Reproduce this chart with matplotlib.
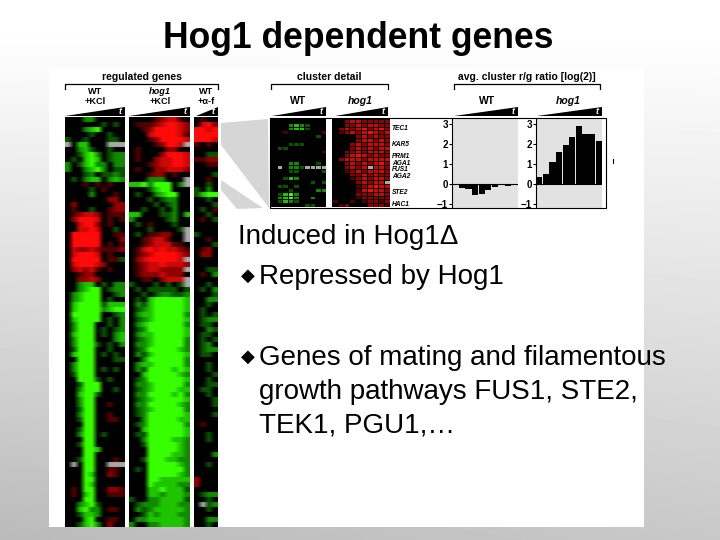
import numpy as np
import matplotlib
matplotlib.use("Agg")
import matplotlib.pyplot as plt
from matplotlib.colors import ListedColormap, BoundaryNorm

plt.rcParams['font.family'] = ['Liberation Sans', 'DejaVu Sans']

TITLE = "Hog1 dependent genes"

# heatmap rows, one letter per cell: a-d = red levels, 1-4 = green levels, w = no data
WT_KCL = [
    "...22.....", "......1.1.", "...234....", "....1..1..", "1..1...11.", "w.33...www",
    "..231..1..", "..1342.122", ".1.343.122", "2.13422.22", "2..2342.11", "...12.1121",
    ".1.233.232", "...a.a.a..", "....1.a...", "....2...a.", ".......bb.", ".b......bb",
    ".a..1..abb", ".abccb.aaa", ".bdddc.a.a", "..cddb.a..", "..ccdc..1.", ".ddddd..aa",
    ".ddddd...b", ".ddddd.a.a", ".cbbcbaaab", ".cdddc.a..", ".ddddd.aa1", ".cdddcb...",
    ".bcbca.a..", "..abb.....", "..bbcb....",
    "..233.1.22", "..2344.122", ".23444..12", ".23444.1..", ".344441333", ".344442344",
    ".44444..12", ".34444.1.2", ".2444..1.2", ".2444.1.12", ".3444.1.23", ".2444...23",
    ".24441.1.2", ".1444..1..", ".3444.1.1.", "..444...11", ".2444.....", ".2444.1.1.",
    ".1444.....", "..4441.1..", "..1444....", "..2444..1.", "..3441....", "..244.....",
    "..244..a..", "..144.....", "..244..a..", "..144..aa.", "...44.....", "..144.....",
    "..244.1...", "...44.....", "..144.....", "...443....", "...44.....", "..144...a.",
    ".w.44..www", "...44..aa.", "...43..ba.", "...44.....", "...43.....", ".a.44..bba",
    ".a.34..aaa", "...44.....", "..2341....", "..3422.aa.", "..1332....", "...34..aa.",
    "..1342.b..",
]
HOG1_KCL = [
    "....abcca.", ".aaabcddcb", "..abddddcb", "...cddddca", "...abddddc", "....abddcw",
    ".a....bb..", ".a...bdddc", ".a..bccddc", "...abccddc", ".a..bbcccb", "...abb.a..",
    "...222...w", "3342444.2w", "...1344...", ".1..2344..", "...1.122..", "....1.12..",
    "..1..1.2..", "33...112.3", "2.....12..", ".1.a...1..", "...1....1w", ".1.aabb..w",
    "..abcca..w", "..abcccaa.", ".acdcdccba", ".abcddddcb", ".bcdddddcw", ".abccdcccb",
    ".abccbbbbw", ".abbbcbbb.", "..aa.bcccw", "1...1.1.1w", ".1.11111.1", "..1.122112",
    ".1.3444443", ".213444443", ".123444443", ".233444442", ".123444443", ".234444442",
    ".124444443", ".233444443", ".123444442", ".223444442", ".124444432", ".213444443",
    "..24444442", ".233444442", ".214444343", "..34444432", ".124444443", ".223444442",
    ".123444433", ".224444342", ".123444443", ".224444432", ".123444442", ".124444443",
    "..24444433", ".124444442", "..34444443", ".114444443", "..24444332", "..14444432",
    "...4444432", "...4444332", "..14443322", "...4444432", ".1.4444442", "...4444432",
    "...4433333", "...4333322", "...3343331", "...3323332", "1..2233331", ".122233322",
    ".212333332", "..13233322", ".223333332", "2..2233332",
]
WT_AF = [
    ".a..", ".cdb", "ddcd", "dddd", "dddc", "a.a.", "....", "..11", "aabb", "..aa", "....",
    "...1", "..a.", "..1.", "1.2.", "1344", "..1.", "...1", ".1.a", "..1.", ".a.1", "....",
    "....", "1...", "..a.", "...1", ".ab.", ".bb.", "....", "....", "..11", ".a.2", "....",
    "..1.", ".1.2", "...1", "..22", "..1.", ".1..", ".1.1", ".122", ".11.", "..21", ".11.",
    ".1.1", ".12.", ".122", ".11.", "....", "..1.", "..1.", "...1", "..1.", "..11", ".11.",
    "..1.", "...1", "...1", "....", "...1", "....", ".a..", "....", "..1.", "..1.", "....",
    "....", "...2", "....", "..1.", "....", "....", "b...", "b...", "....", ".122", "..1.",
    ".w12", "..1.", "....", "..22", "..1.",
]
CLUSTER_WT = [
    "..........", "...2321...", "...2331...", "..a......a", "........1.", "..........",
    "...111....", ".11.......", ".........a", "..........", "..........", "...22...1.",
    ".w.221wwww", "...11....1", "..........", "..132.....", ".......1.1", ".11.1.....",
    "...1....22", ".1342.....", ".2342..2..", ".1321.....", "......11..",
]
CLUSTER_HOG1 = [
    "..bccbbbbb", "..bbcbccbb", ".bcbcdbcdb", ".abcbcdcbc", "....bcbcbb", "....bccbcb",
    "...bcbcccb", "...bcbcbcc", "..bbcbcccb", "..bcdcbcbb", ".bcccbcccc", "..bcbcbcdb",
    "..bcbcwccb", "..abcbcccb", "...bbcbcbb", "...abcbccb", "....bcbccw", "....abcdcc",
    "....acdccb", "....bbbccb", "....abbbbb", "a..a.abbab", ".ab...bbba",
]
GENE_LABELS = ["TEC1", "KAR5", "PRM1", "AGA1", "FUS1", "AGA2", "STE2", "HAC1"]
GENE_Y = [128, 145, 157, 163.5, 169.5, 177, 193, 205]

# average cluster r/g ratio, log2
BAR_WT = [0.0, -0.2, -0.25, -0.55, -0.5, -0.3, -0.15, 0.0, -0.1, -0.05]
BAR_HOG1 = [0.35, 0.5, 1.1, 1.6, 1.95, 2.35, 2.9, 2.5, 2.5, 2.15]
BAR_TICKS = [-1, 0, 1, 2, 3]

BULLETS = [
    (259, 276, "Repressed by Hog1"),
    (259, 357, "Genes of mating and filamentous"),
]

LEVELS = {'.': 0, 'a': 1, 'b': 2, 'c': 3, 'd': 4, '1': -1, '2': -2, '3': -3, '4': -4, 'w': 5}
COLORS = ['#38ff00', '#1fc400', '#128a00', '#0a5200', '#000000',
          '#4f0000', '#900000', '#cc0808', '#ff0a0a', '#a8a8a8']
CMAP = ListedColormap(COLORS)
NORM = BoundaryNorm(np.arange(-4.5, 6.5), CMAP.N)


def px_axes(fig, x0, y0, x1, y1):
    # axes placed by pixel box, y measured from the top of the picture
    ax = fig.add_axes([x0 / 720, 1 - y1 / 540, (x1 - x0) / 720, (y1 - y0) / 540])
    return ax


def to_matrix(rows):
    return np.array([[LEVELS[c] for c in r] for r in rows])


def draw_heatmap(fig, rows, box):
    # soft across the columns but keeps the thin row streaks
    ax = px_axes(fig, *box)
    rgb = np.repeat(CMAP(NORM(to_matrix(rows))), 6, axis=0)
    ax.imshow(rgb, aspect='auto', interpolation='bilinear')
    ax.axis('off')
    return ax


def draw_cells(fig, rows, box):
    ax = px_axes(fig, *box)
    ax.pcolormesh(to_matrix(rows), cmap=CMAP, norm=NORM, edgecolors='black', linewidth=0.5)
    ax.invert_yaxis()
    ax.axis('off')
    return ax


def draw_bars(fig, values, box):
    ax = px_axes(fig, *box)
    ax.set_facecolor('#e2e2e2')
    ax.bar(range(len(values)), values, width=0.95, color='black')
    ax.axhline(0, color='black', lw=0.8)
    ax.set_xlim(-0.5, len(values) - 0.5)
    ax.set_ylim(-1.2, 3.3)
    ax.set_xticks([])
    ax.set_yticks(BAR_TICKS)
    ax.tick_params(axis='y', length=2, width=0.8, pad=1, labelsize=7)
    for lab in ax.get_yticklabels():
        lab.set_fontweight('bold')
    for s in ['top', 'right', 'bottom']:
        ax.spines[s].set_visible(False)
    ax.spines['left'].set_linewidth(0.8)


def wedge(over, x0, x1, y0=116, y1=107):
    over.fill([x0, x1, x1], [y0, y1, y0], color='black', lw=0)
    over.text(x1 - 5, y0 - 4.5, "t", color='white', fontsize=6.5, fontweight='bold',
              style='italic', ha='center', va='center')


def bracket(over, x0, x1, y=84, drop=5):
    over.plot([x0, x0, x1, x1], [y + drop, y, y, y + drop], color='black', lw=0.9)


fig = plt.figure(figsize=(7.2, 5.4), dpi=100)

# slide background, white at the top and grey towards the bottom and the left
bg = fig.add_axes([0, 0, 1, 1])
yy, xx = np.mgrid[0:540, 0:720]
shade = 1 - 0.27 * np.clip((yy - 30) / 510, 0, 1) * (1 - 0.2 * xx / 720)
bg.imshow(shade, cmap='gray', vmin=0, vmax=1, aspect='auto', extent=[0, 720, 540, 0])
bg.axis('off')

over = fig.add_axes([0, 0, 1, 1], zorder=5)
over.set_xlim(0, 720)
over.set_ylim(540, 0)
over.axis('off')
over.patch.set_alpha(0)

bg.fill([49, 644, 644, 49], [68, 68, 527, 527], color='white', lw=0)
# grey connector wedges from the big heatmap to the cluster detail
bg.fill([221, 268, 269, 221], [123, 119, 208, 145], color='#d6d6d6', lw=0)
bg.fill([221, 263, 237, 221], [180, 208, 209, 190], color='#d6d6d6', lw=0)
bg.set_xlim(0, 720)
bg.set_ylim(540, 0)

over.text(358, 39, TITLE, fontsize=25.6, fontweight='bold', ha='center', va='center')

draw_heatmap(fig, WT_KCL, (65, 117, 125, 527))
draw_heatmap(fig, HOG1_KCL, (129, 117, 190, 527))
draw_heatmap(fig, WT_AF, (194, 117, 218, 527))
draw_cells(fig, CLUSTER_WT, (271, 119, 326, 207))
draw_cells(fig, CLUSTER_HOG1, (332, 119, 390, 207))
draw_bars(fig, BAR_WT, (452, 118, 518, 208))
draw_bars(fig, BAR_HOG1, (536, 118, 602, 208))

# frame around the cluster row
over.plot([270, 606, 606, 270, 270], [118, 118, 208, 208, 118], color='black', lw=0.8)
over.plot([613, 613], [159, 163], color='black', lw=0.8)

small = dict(fontsize=7.5, fontweight='bold', ha='center', va='center')
tiny = dict(fontsize=6.6, fontweight='bold', ha='center', va='center')
over.text(142, 77.5, "regulated genes", **small)
over.text(329, 77.5, "cluster detail", **small)
over.text(527, 77.5, "avg. cluster r/g ratio [log(2)]", **small)
bracket(over, 65, 218)
bracket(over, 271, 388)
bracket(over, 454, 600)

over.text(95, 92, "WT", **tiny)
over.text(95, 101, "+KCl", **tiny)
over.text(160, 92, "hog1", style='italic', **tiny)
over.text(160, 101, "+KCl", **tiny)
over.text(206, 92, "WT", **tiny)
over.text(206, 101, "+α-f", **tiny)
over.text(298, 101, "WT", **small)
over.text(360, 101, "hog1", style='italic', **small)
over.text(487, 101, "WT", **small)
over.text(568, 101, "hog1", style='italic', **small)

wedge(over, 65, 125)
wedge(over, 129, 190)
wedge(over, 196, 218)
wedge(over, 272, 326)
wedge(over, 335, 388)
wedge(over, 454, 518)
wedge(over, 537, 602)

for name, y in zip(GENE_LABELS, GENE_Y):
    over.text(392, y, name, fontsize=4.8, fontweight='bold', style='italic', ha='left', va='center')

body = dict(fontsize=20, ha='left', va='center')
over.text(238, 237, "Induced in Hog1Δ", **body)
for x, y, txt in BULLETS:
    over.text(x, y + 1, txt, **body)
    over.text(248, y, "◆", fontsize=13, ha='center', va='center', color='black',
              family=['DejaVu Sans'])
over.text(259, 392, "growth pathways FUS1, STE2,", **body)
over.text(259, 426, "TEK1, PGU1,…", **body)

plt.savefig("out.png", dpi=100)
